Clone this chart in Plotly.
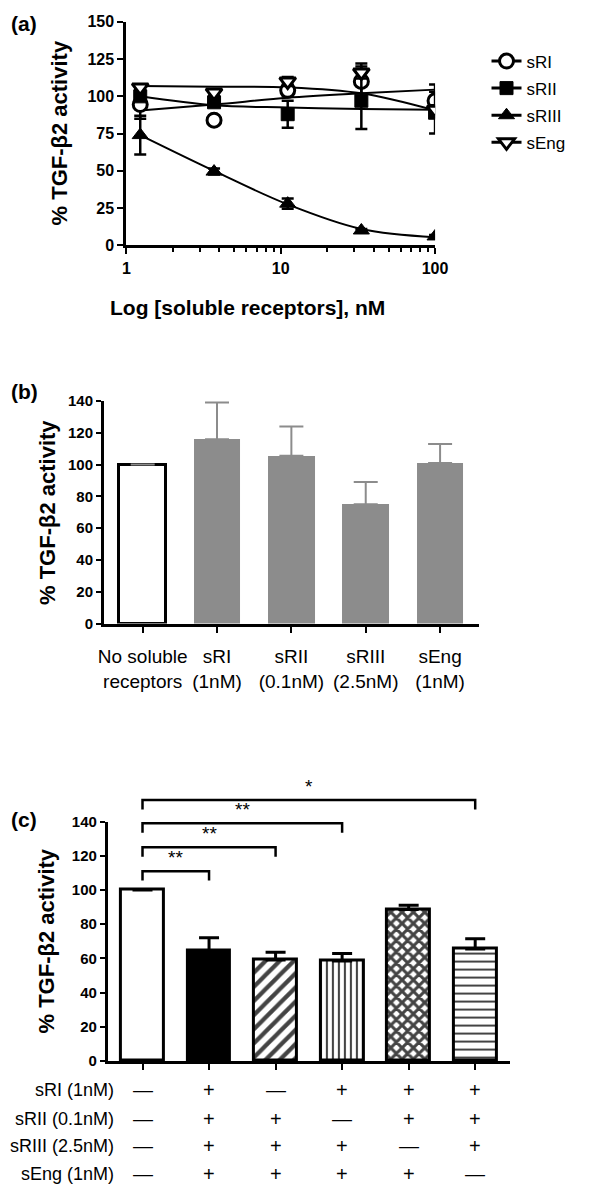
import plotly.graph_objects as go

# ---------------- data: panel (a) ----------------
conc = [1.23, 3.7, 11.1, 33.3, 100]
sRI = [94.5, 84, 104, 110, 97]
sRI_err = [9.5, 3, 4, 12, 11]
sRII = [100, 96, 88, 97, 89]
sRII_err = [3, 3, 9, 19, 14]
sRIII = [74, 49.5, 28, 10, 6]
sRIII_err = [13, 2, 3.5, 1, 1]
sEng = [106, 102.5, 110, 116, 91]
sEng_err = [2, 2, 3, 4, 3]
# fitted curves
sRI_fit = [90.5, 94.5, 99, 102, 104.5]
sRII_fit = [100, 94, 92.5, 91.5, 91]
sRIII_fit = [74, 50, 27.5, 11, 5.5]
sEng_fit = [107, 106.5, 106, 102, 90.5]
a_xticks = [1, 10, 100]
a_minor = [2, 3, 4, 5, 6, 7, 8, 9, 20, 30, 40, 50, 60, 70, 80, 90]

# ---------------- data: panel (b) ----------------
b_labels = ["No soluble<br>receptors", "sRI<br>(1nM)", "sRII<br>(0.1nM)", "sRIII<br>(2.5nM)", "sEng<br>(1nM)"]
b_values = [100, 116, 105.5, 75, 101]
b_err = [0, 23, 18.5, 14, 12]

# ---------------- data: panel (c) ----------------
c_values = [100, 64.5, 59, 58.5, 88.5, 65.5]
c_err = [0, 7.5, 4.5, 4.3, 2.5, 6]
c_rows = ["sRI (1nM)", "sRII (0.1nM)", "sRIII (2.5nM)", "sEng (1nM)"]
c_table = [
    ["—", "+", "—", "+", "+", "+"],
    ["—", "+", "+", "—", "+", "+"],
    ["—", "+", "+", "+", "—", "+"],
    ["—", "+", "+", "+", "+", "—"],
]
bracket_ends = [1, 2, 3, 5]
bracket_heights = [111, 125, 139, 152.6]
bracket_labels = ["**", "**", "**", "*"]

# ---------------- layout helpers ----------------
W, H = 616, 1196
def px(x):
    return x / W
def py(y):
    return 1 - y / H

FONT = "Liberation Sans, Arial, sans-serif"
NARROW = "Liberation Sans Narrow, Liberation Sans, Arial, sans-serif"

dom_a_x = [px(125), px(443)]
dom_a_y = [py(240), py(13)]
dom_b_x = [px(102), px(488)]
dom_b_y = [py(624), py(398)]
dom_c_x = [px(106), px(520)]
dom_c_y = [py(1068), py(825)]

fig = go.Figure()

# ---------- panel (a) ----------
series = [
    ("sRI", sRI, sRI_err, sRI_fit, dict(symbol="circle", color="white", size=14, line=dict(color="black", width=3))),
    ("sRII", sRII, sRII_err, sRII_fit, dict(symbol="square", color="black", size=13, line=dict(color="black", width=1))),
    ("sRIII", sRIII, sRIII_err, sRIII_fit, dict(symbol="triangle-up", color="black", size=14, line=dict(color="black", width=1))),
    ("sEng", sEng, sEng_err, sEng_fit, dict(symbol="triangle-down", color="white", size=14, line=dict(color="black", width=3))),
]
for name, vals, err, fit, mk in series:
    fig.add_trace(go.Scatter(x=conc, y=fit, mode="lines", line=dict(color="black", width=2, shape="spline"),
                             showlegend=False, xaxis="x", yaxis="y", hoverinfo="skip"))
for name, vals, err, fit, mk in series:
    fig.add_trace(go.Scatter(x=conc, y=vals, mode="markers", marker=mk, showlegend=False,
                             error_y=dict(type="data", array=err, visible=True, color="black", thickness=2.5, width=6),
                             xaxis="x", yaxis="y"))
for i, (name, vals, err, fit, mk) in enumerate(series):
    fig.add_trace(go.Scatter(x=[None], y=[None], mode="lines+markers", name=name, marker=mk,
                             line=dict(color="black", width=3), legendgroup=name, xaxis="x", yaxis="y"))

# ---------- panel (b) ----------
fig.add_trace(go.Bar(x=list(range(len(b_values))), y=b_values, width=0.63,
                     marker=dict(color=["white"] + ["#8c8c8c"] * 4,
                                 line=dict(color=["black"] + ["#8c8c8c"] * 4, width=[3, 0, 0, 0, 0])),
                     error_y=dict(type="data", array=b_err, arrayminus=[0] * 5, visible=True,
                                  color="#8c8c8c", thickness=2, width=12),
                     showlegend=False, xaxis="x2", yaxis="y2"))

# ---------- panel (c) ----------
c_fill = ["white", "black", "white", "white", "white", "white"]
c_shape = ["", "", "/", "|", "x", "-"]
c_psize = [8, 8, 10, 6, 8, 8]
c_solid = [0.2, 0.2, 0.42, 0.35, 0.62, 0.25]
fig.add_trace(go.Bar(x=list(range(len(c_values))), y=c_values, width=0.64,
                     marker=dict(color=c_fill, line=dict(color="black", width=3),
                                 pattern=dict(shape=c_shape, fgcolor="black", bgcolor="white", fgopacity=1,
                                              size=c_psize, solidity=c_solid, fillmode="overlay")),
                     error_y=dict(type="data", array=c_err, arrayminus=[0] * 6, visible=True,
                                  color="black", thickness=3, width=10),
                     showlegend=False, xaxis="x3", yaxis="y3"))

ax_common = dict(showgrid=False, zeroline=False, showline=True, linecolor="black", linewidth=3,
                 ticks="outside", tickcolor="black", tickwidth=2)

fig.update_layout(
    width=W, height=H, margin=dict(l=0, r=0, t=0, b=0),
    paper_bgcolor="white", plot_bgcolor="white",
    font=dict(family=FONT, color="black"),
    bargap=0,
    xaxis=dict(ax_common, type="log", range=[0, 2], domain=dom_a_x, anchor="y",
               tickvals=a_xticks, ticktext=[str(v) for v in a_xticks], ticklen=6,
               tickfont=dict(family=NARROW, size=16, weight="bold"),
               minor=dict(tickvals=a_minor, ticks="outside", ticklen=4, tickwidth=2, tickcolor="black")),
    yaxis=dict(ax_common, range=[0, 150], dtick=25, domain=dom_a_y, anchor="x", ticklen=6,
               tickfont=dict(family=NARROW, size=16, weight="bold")),
    xaxis2=dict(ax_common, range=[-0.52, 4.52], domain=dom_b_x, anchor="y2", ticklen=6, tickangle=0,
                ticklabelstandoff=8,
                tickvals=list(range(5)), ticktext=b_labels, tickfont=dict(size=19)),
    yaxis2=dict(ax_common, range=[0, 140], dtick=20, domain=dom_b_y, anchor="x2", ticklen=5,
                tickfont=dict(family=NARROW, size=15, weight="bold")),
    xaxis3=dict(ax_common, range=[-0.52, 5.52], domain=dom_c_x, anchor="y3", ticklen=6,
                tickvals=list(range(6)), showticklabels=False),
    yaxis3=dict(ax_common, range=[0, 140], dtick=20, domain=dom_c_y, anchor="x3", ticklen=5,
                tickfont=dict(family=NARROW, size=15, weight="bold")),
    legend=dict(x=px(496), y=py(35), xanchor="left", yanchor="top", font=dict(size=17),
                traceorder="grouped", tracegroupgap=2, bgcolor="rgba(0,0,0,0)", itemwidth=30),
)

ann = []
# panel labels
for lab, y in [("(a)", 15), ("(b)", 388), ("(c)", 823)]:
    ann.append(dict(text=lab, x=px(4), y=py(y), xref="paper", yref="paper", xanchor="left", yanchor="middle",
                    showarrow=False, font=dict(size=21, weight="bold")))
# y titles
for x, y in [(56, 126), (44, 511), (43, 946)]:
    ann.append(dict(text="% TGF-β2 activity", x=px(x), y=py(y), xref="paper", yref="paper", textangle=-90,
                    xanchor="center", yanchor="middle", showarrow=False, font=dict(size=22, weight="bold")))
# x title for (a)
ann.append(dict(text="Log [soluble receptors], nM", x=px(250), y=py(303), xref="paper", yref="paper",
                xanchor="center", yanchor="middle", showarrow=False, font=dict(size=21, weight="bold")))
# table for (c)
row_y = [1098, 1127, 1154, 1183]
for r, lab in enumerate(c_rows):
    ann.append(dict(text=lab, x=px(114), y=py(row_y[r]), xref="paper", yref="paper", xanchor="right",
                    yanchor="middle", showarrow=False, font=dict(size=18)))
    for c, sym in enumerate(c_table[r]):
        ann.append(dict(text=sym, x=c, y=py(row_y[r]), xref="x3", yref="paper", xanchor="center",
                        yanchor="middle", showarrow=False, font=dict(size=20)))

def c_val2paper(v):
    return dom_c_y[0] + v / 140 * (dom_c_y[1] - dom_c_y[0])

shapes = []
for end, h, lab in zip(bracket_ends, bracket_heights, bracket_labels):
    ytop = c_val2paper(h)
    ybot = c_val2paper(h - 5.5)
    shapes.append(dict(type="path", xref="x3", yref="paper",
                       path=f"M 0,{ybot} L 0,{ytop} L {end},{ytop} L {end},{ybot}",
                       line=dict(color="black", width=2.5)))
    ann.append(dict(text=lab, x=end / 2, y=c_val2paper(h + 0.5), xref="x3", yref="paper", xanchor="center",
                    yanchor="bottom", showarrow=False, font=dict(size=19)))

fig.update_layout(annotations=ann, shapes=shapes)
fig.write_html("out.html", post_script="document.body.style.margin='0';",
               config={"displayModeBar": False})
